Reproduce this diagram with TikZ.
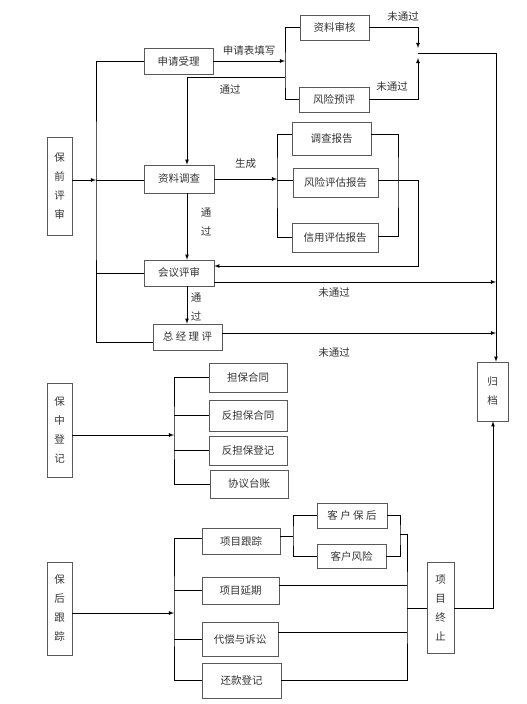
\documentclass[tikz,border=0pt]{standalone}
\usepackage{fontspec}
\newfontfamily\cjk{Noto Sans CJK SC}
\usetikzlibrary{arrows}

\begin{document}
\begin{tikzpicture}[x=1pt,y=-1pt,
    box/.style 2 args={draw=black!65, rectangle, line width=0.7pt,
    inner sep=0pt, minimum width=#1pt, minimum height=#2pt},
    vbox/.style 2 args={box={#1}{#2}, align=center,
    font=\cjk\fontsize{10.5}{19}\selectfont},
    txt/.style={inner sep=0pt},
    vtxt/.style={inner sep=0pt, align=center,
    font=\cjk\fontsize{10.5}{19}\selectfont},
    arr/.style={-latex, line width=0.75pt}]
    \tikzstyle{every node}=[font=\cjk\fontsize{10.5}{13}\selectfont, text=black!80]
    \tikzstyle{every path}=[line width=0.75pt]
    \useasboundingbox (0,0) rectangle (527,704);

    % pre-review
    \node[vbox={25}{98}] (bq) at (59.5,186) {保\\前\\评\\审};
    \node[box={69}{26}] (sl) at (178.5,61) {申请受理};
    \node[box={69}{25}] (zs) at (334.5,27.5) {资料审核};
    \node[box={70}{25}] (fx) at (334,99.5) {风险预评};
    \node[box={70}{28}] (zd) at (179,179) {资料调查};
    \node[box={79}{33}] (dc) at (331.5,138.5) {调查报告};
    \node[box={85}{29}] (fp) at (335.5,182.5) {风险评估报告};
    \node[box={86}{29}] (xy) at (335,237.5) {信用评估报告};
    \node[box={70}{26}] (hy) at (179,273) {会议评审};
    \node[box={69}{26}] (zj) at (187.5,337) {总 经 理 评};
    \node[vbox={31}{59}] (gd) at (492.5,391.5) {归\\档};

    % in-guarantee
    \node[vbox={25}{94}] (bz) at (59.5,430) {保\\中\\登\\记};
    \node[box={78}{29}] (db) at (248,377.5) {担保合同};
    \node[box={78}{31}] (fd) at (248,415.5) {反担保合同};
    \node[box={78}{29}] (fj) at (248,450.5) {反担保登记};
    \node[box={78}{28}] (xt) at (249,484) {协议台账};

    % post-guarantee
    \node[vbox={25}{93}] (bh) at (59.5,608.5) {保\\后\\跟\\踪};
    \node[box={78}{26}] (gz) at (241,541) {项目跟踪};
    \node[box={70}{25}] (kb) at (352,515.5) {客 户 保 后};
    \node[box={69}{24}] (kf) at (351.5,556) {客户风险};
    \node[box={77}{27}] (yq) at (240.5,590.5) {项目延期};
    \node[box={76}{34}] (dch) at (240,639) {代偿与诉讼};
    \node[box={79}{35}] (hk) at (241.5,680.5) {还款登记};
    \node[vbox={27}{91}] (zz) at (440.5,607.5) {项\\目\\终\\止};

    \coordinate (ja) at (285,77);
    \coordinate (m) at (418,53);
    \coordinate (jl) at (96,180);
    \coordinate (jb) at (277,180);
    \coordinate (jc) at (398,180);
    \coordinate (jd) at (418,266);
    \coordinate (je) at (496,282);
    \coordinate (jf) at (496,333);
    \coordinate (jg) at (174,435);
    \coordinate (jh) at (174,613);
    \coordinate (ji) at (293,536);
    \coordinate (jk) at (400,534);
    \coordinate (jm) at (407,608);

    \draw[arr] (sl.east) -- (sl.east -| ja)
        node[txt, midway, above=5pt] (t1) {申请表填写};
    \draw (zs.west) -| (ja) |- (fx.west);
    \draw[arr] (ja) -| ([xshift=8pt]zd.north);
    \node[txt] (t2) at (230,89) {通过};
    \draw[arr] (zs.east) -| ([yshift=5pt]m);
    \draw[arr] (fx.east) -| ([yshift=-5pt]m);
    \draw[arr] (m) -| ([xshift=3.5pt]gd.north);
    \node[txt] (t3) at (403,17) {未通过};
    \node[txt] (t4) at (392,87) {未通过};

    \draw (sl.west) -| (jl) |- ([yshift=-5pt]zj.west);
    \draw (jl) -- (jl -| zd.west);
    \draw (hy.west) -- (hy.west -| jl);
    \draw[arr] ([yshift=6pt]bq.east) -- (jl);

    \draw[arr] (zd.east) -- (zd.east -| jb)
        node[txt, midway, above=10pt] (t5) {生成};
    \draw ([yshift=4pt]dc.west) -| (jb) |- (xy.west);
    \draw (jb) -- (jb -| fp.west);
    \draw ([yshift=4pt]dc.east) -| (jc) |- ([yshift=1pt]xy.east);
    \draw[arr] ([yshift=2pt]fp.east) -| (jd) -- ([yshift=7pt]hy.east);

    \draw[arr] ([xshift=8pt]zd.south) -- ([xshift=8pt]hy.north);
    \node[vtxt] (t6) at (206,222.5) {通\\过};
    \draw[arr] ([yshift=-9pt]hy.east) -- (je);
    \node[txt] (t7) at (334,293) {未通过};
    \draw[arr] ([xshift=8pt]hy.south) -- ([xshift=8pt]hy.south |- zj.north);
    \node[vtxt] (t8) at (196,307.5) {通\\过};
    \draw[arr] ([yshift=4pt]zj.east) -- (jf);
    \node[txt] (t9) at (334,353) {未通过};

    \draw[arr] ([yshift=-5pt]bz.east) -- (jg);
    \draw (db.west) -| (jg) |- (xt.west);
    \draw (fd.west) -- (fd.west -| jg);
    \draw (fj.west) -- (fj.west -| jg);

    \draw[arr] ([yshift=-4.5pt]bh.east) -- (jh);
    \draw ([yshift=3pt]gz.west) -| (jh) |- (hk.west);
    \draw (yq.west) -- (yq.west -| jh);
    \draw (dch.west) -- (dch.west -| jh);
    \draw ([yshift=5pt]gz.east) -- (ji);
    \draw (kb.west) -| (ji) |- (kf.west);
    \draw (kb.east) -| (jk) |- (kf.east);
    \draw (jk) -| (jm) |- (hk.east);
    \draw ([yshift=5.5pt]yq.east) -- ([yshift=5.5pt]yq.east -| jm);
    \draw ([yshift=7pt]dch.east) -- ([yshift=7pt]dch.east -| jm);
    \draw (jm) -- (jm -| zz.west);
    \draw[arr] (jm -| zz.east) -| ([xshift=0.5pt]gd.south);
\end{tikzpicture}
\end{document}
